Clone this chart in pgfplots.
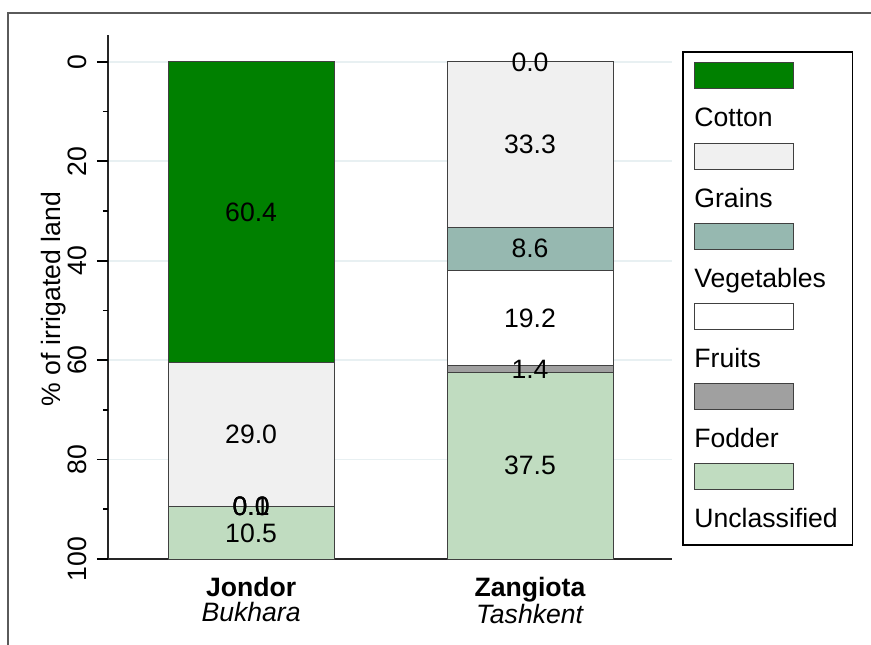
\documentclass[border=0pt]{standalone}
\usepackage{fontspec}
\setmainfont{Liberation Sans}
\usepackage{pgfplots}
\pgfplotsset{compat=1.18}
\definecolor{ccotton}{RGB}{0,128,0}
\definecolor{cgrains}{RGB}{240,240,240}
\definecolor{cveg}{RGB}{150,184,176}
\definecolor{cfruits}{RGB}{255,255,255}
\definecolor{cfodder}{RGB}{160,160,160}
\definecolor{cuncl}{RGB}{192,220,192}
\definecolor{cgrid}{RGB}{232,240,242}
\definecolor{cborder}{RGB}{90,90,90}
\newcommand{\fs}{\fontsize{13.3}{15}\selectfont}
\begin{document}
\begin{tikzpicture}
\useasboundingbox (0,0) rectangle (435.5pt,322pt);
\draw[cborder, line width=0.8pt] (4pt,-2pt) -- (4pt,315.5pt) -- (440pt,315.5pt);
\pgfplotsset{
  common/.style={
    at={(54pt,42.5pt)}, anchor=south west,
    scale only axis, width=282pt, height=262pt,
    xmin=-0.513, xmax=1.509, ymin=-5.4, ymax=100, y dir=reverse,
  }
}
% background grid
\begin{axis}[common,
  axis line style={draw=none},
  xtick=\empty, ytick={0,20,40,60,80},
  yticklabels={}, tick style={draw=none},
  ymajorgrids, major grid style={draw=cgrid, line width=0.8pt},
]
\addplot[draw=none] coordinates {(0,0)};
\end{axis}
\begin{axis}[common,
  ybar stacked, bar width=83pt,
  axis x line*=bottom, axis y line*=left,
  axis line style={black!85, line width=0.8pt},
  xtick={0,1},
  xticklabels={{\textbf{Jondor}\\\textit{Bukhara}},{\textbf{Zangiota}\\\textit{Tashkent}}},
  xticklabel style={align=center, inner sep=0pt, font=\fontsize{13.3}{12.4}\selectfont},
  xticklabel shift=3.5pt,
  xtick style={draw=none},
  ytick={0,20,40,60,80,100},
  minor ytick={10,30,50,70,90},
  tick align=outside,
  major tick length=5.5pt, minor tick length=2.5pt,
  ytick style={draw=black, line width=0.8pt},
  yticklabel style={rotate=90, anchor=south, inner sep=0pt, font=\fs},
  yticklabel shift=4.75pt,
  /pgf/number format/assume math mode=true,
  ylabel={\% of irrigated land},
  ylabel style={at={(axis description cs:-0.097,0.496)}, anchor=center, font=\fs, inner sep=0pt},
  every axis plot/.append style={draw=black!75, line width=0.5pt},
]
\addplot[fill=ccotton] coordinates {(0,60.4) (1,0.0)};
\addplot[fill=cgrains] coordinates {(0,29.0) (1,33.3)};
\addplot[fill=cveg] coordinates {(0,0.0) (1,8.6)};
\addplot[fill=cfruits] coordinates {(0,0.1) (1,19.2)};
\addplot[fill=cfodder] coordinates {(0,0.0) (1,1.4)};
\addplot[fill=cuncl] coordinates {(0,10.5) (1,37.5)};
\end{axis}
\begin{axis}[common, hide axis]
\addplot[draw=none, mark=none, nodes near coords, point meta=explicit symbolic,
  every node near coord/.append style={anchor=center, font=\fs, inner sep=0pt, text=black}]
  coordinates {
  (0,30.2)[60.4] (0,74.9)[29.0] (0,89.4)[0.0] (0,89.45)[0.1] (0,89.5)[0.0] (0,94.75)[10.5]
  (1,0)[0.0] (1,16.65)[33.3] (1,37.6)[8.6] (1,51.5)[19.2] (1,61.8)[1.4] (1,81.25)[37.5]
  };
\end{axis}
% y-axis tick marks (picture coordinates of the axis ticks)
\foreach \yy in {291.08,241.36,191.65,141.93,92.22,42.5}{
  \draw[black, line width=0.9pt] (54pt,\yy pt) -- (48.5pt,\yy pt);
}
\foreach \yy in {266.22,216.51,166.79,117.07,67.36}{
  \draw[black, line width=0.9pt] (54pt,\yy pt) -- (51.5pt,\yy pt);
}
% legend
\draw[black, line width=0.6pt] (341.5pt,296pt) rectangle (426.3pt,49.5pt);
\foreach \c/\t [count=\k from 0] in {ccotton/Cotton, cgrains/Grains, cveg/Vegetables, cfruits/Fruits, cfodder/Fodder, cuncl/Unclassified}{
  \pgfmathsetmacro{\top}{290.5-40*\k}
  \pgfmathsetmacro{\bas}{258.5-40*\k}
  \draw[fill=\c, draw=black!75, line width=0.5pt] (347pt,\top pt) rectangle (396.5pt,\top pt-13pt);
  \node[anchor=base west, inner sep=0pt, font=\fs] at (347pt,\bas pt) {\t};
}
\end{tikzpicture}
\end{document}
